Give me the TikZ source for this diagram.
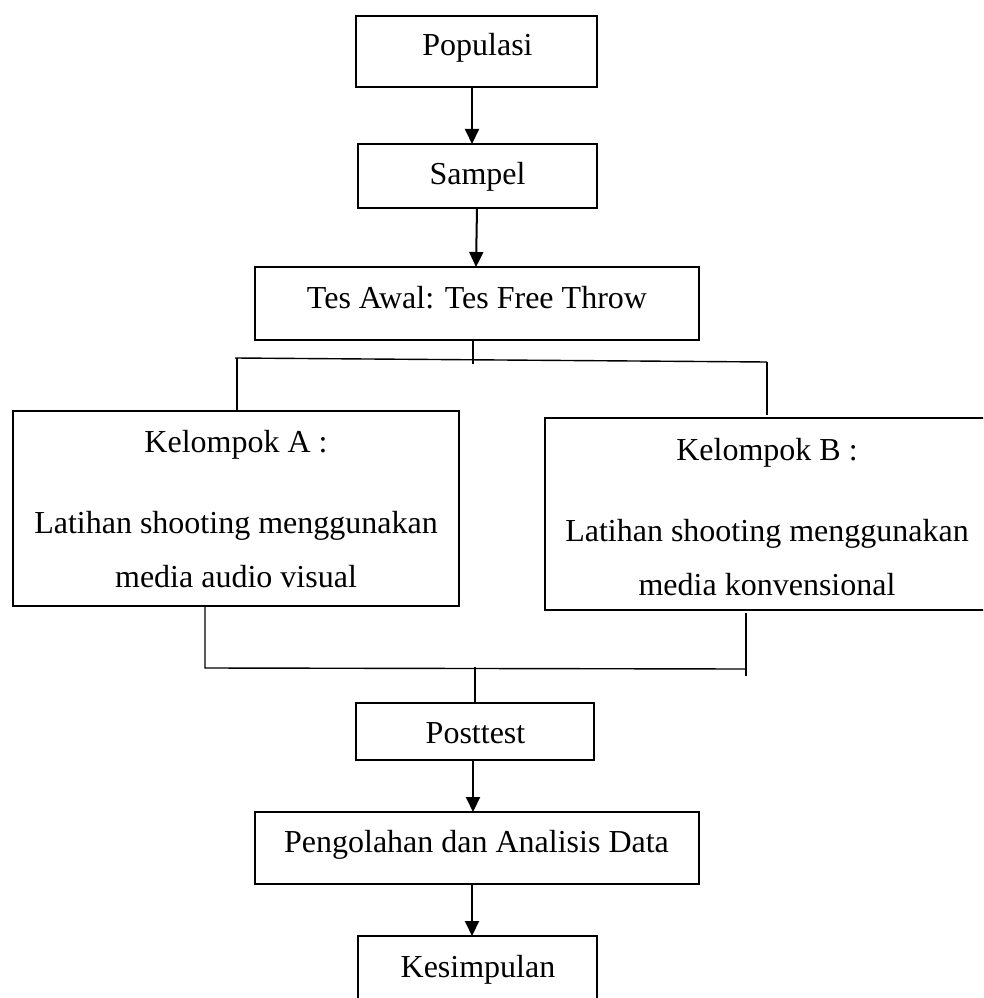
\documentclass[tikz,border=0pt]{standalone}
\usepackage{fontspec}
\setmainfont{Liberation Serif}
\usetikzlibrary{arrows.meta}
\tikzset{
  box/.style={draw=black, line width=1.05pt, rectangle, inner sep=0pt, outer sep=0pt},
  txt/.style={inner sep=0pt, outer sep=0pt, anchor=base, font=\fontsize{24pt}{28pt}\selectfont},
  conn/.style={draw=black, line width=1.05pt},
  arr/.style={draw=black, line width=1.5pt, -{Triangle[length=11.25pt, width=10.5pt]}}
}
\begin{document}
\begin{tikzpicture}[x=0.75pt, y=-0.75pt]
\useasboundingbox (0,0) rectangle (983,998);
\clip (0,0) rectangle (983,998);
% boxes
\node[box, minimum width=180.75pt, minimum height=53.25pt] (pop) at (476.5,51.5) {};
\node[box, minimum width=179.25pt, minimum height=48pt] (sam) at (477.5,176) {};
\node[box, minimum width=333pt, minimum height=54.75pt] (tes) at (477,303.5) {};
\node[box, minimum width=334.5pt, minimum height=146.25pt] (ka) at (236,508.5) {};
\node[box, minimum width=333pt, minimum height=144pt] (kb) at (767,514) {};
\node[box, minimum width=178.5pt, minimum height=42.75pt] (post) at (475,731.5) {};
\node[box, minimum width=333pt, minimum height=54pt] (peng) at (477,848) {};
\node[box, minimum width=179.25pt, minimum height=51.75pt] (kes) at (477.5,970.5) {};
% texts
\node[txt] (popt) at (477.5,56) {Populasi};
\node[txt] (samt) at (477.5,185) {Sampel};
\node[txt] (test) at (477,309) {Tes Awal: Tes Free Throw};
\node[txt] (ka1) at (236,452) {Kelompok A :};
\node[txt] (ka2) at (236,533) {Latihan shooting menggunakan};
\node[txt] (ka3) at (236,587) {media audio visual};
\node[txt] (kb1) at (767,460) {Kelompok B :};
\node[txt] (kb2) at (767,541) {Latihan shooting menggunakan};
\node[txt] (kb3) at (767,595) {media konvensional};
\node[txt] (postt) at (475.5,743) {Posttest};
\node[txt] (pengt) at (476.5,852) {Pengolahan dan Analisis Data};
\node[txt] (kest) at (478,977) {Kesimpulan};
% junction coordinates
\coordinate (tj) at (473,364);
\coordinate (hl) at (235,358);
\coordinate (la) at (237,358);
\coordinate (hr) at (767,362);
\coordinate (rbend) at (767,415);
\coordinate (lbl) at (205,668);
\coordinate (lbr) at (746,669);
\coordinate (rtop) at (746,613);
\coordinate (rbot) at (746,676);
\coordinate (cj) at (475,667);
% arrows
\draw[arr] (pop.south -| 472,0) -- (sam.north -| 472,0);
\draw[arr] (sam.south -| 477,0) -- (tes.north -| 476,0);
\draw[arr] (post.south -| 473,0) -- (peng.north -| 473,0);
\draw[arr] (peng.south -| 472,0) -- (kes.north -| 472,0);
% split lines
\draw[conn] (tes.south -| 473,0) -- (tj);
\draw[conn] (hl) -- (hr);
\draw[conn] (la) -- (ka.north -| la);
\draw[conn] (hr) -- (rbend);
% merge lines
\draw[conn] (ka.south -| lbl) -- (lbl) -- (lbr);
\draw[conn] (rtop) -- (rbot);
\draw[conn] (cj) -- (post.north -| cj);
\end{tikzpicture}
\end{document}
